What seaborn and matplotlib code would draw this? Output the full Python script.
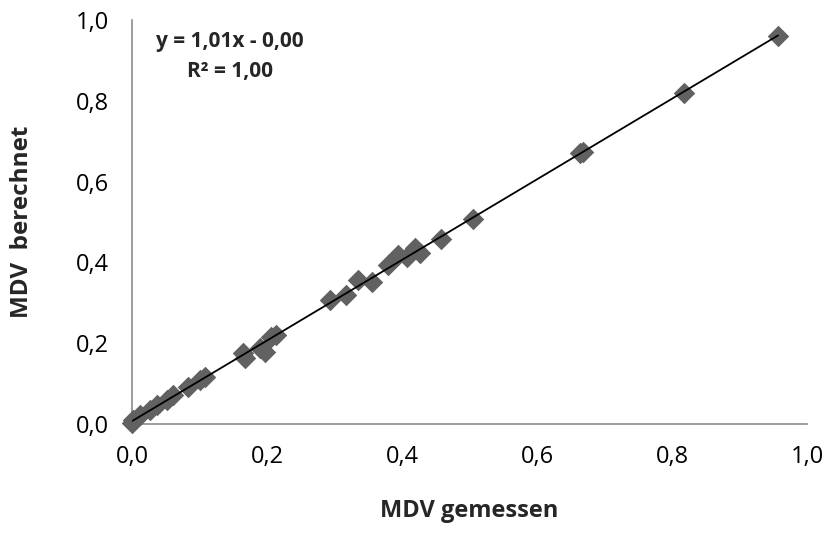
import matplotlib
matplotlib.use("Agg")
import matplotlib.pyplot as plt
from matplotlib.ticker import FuncFormatter, MultipleLocator
import seaborn as sns
import pandas as pd

# --- data ---
mdv_gemessen = [0.0, 0.001, 0.011, 0.026, 0.036, 0.051, 0.06, 0.083, 0.1, 0.108,
                0.164, 0.167, 0.189, 0.196, 0.205, 0.213, 0.293, 0.316, 0.335, 0.356,
                0.379, 0.394, 0.407, 0.419, 0.427, 0.457, 0.505, 0.664, 0.668, 0.817, 0.957]
mdv_berechnet = [0.003, 0.01, 0.022, 0.035, 0.047, 0.059, 0.072, 0.092, 0.109, 0.116,
                 0.176, 0.163, 0.188, 0.178, 0.215, 0.220, 0.307, 0.319, 0.356, 0.351,
                 0.394, 0.418, 0.413, 0.436, 0.423, 0.458, 0.507, 0.671, 0.673, 0.819, 0.961]
equation_text = "y = 1,01x - 0,00"
r2_text = "R² = 1,00"
x_label = "MDV gemessen"
y_label = "MDV  berechnet"

df = pd.DataFrame({"gemessen": mdv_gemessen, "berechnet": mdv_berechnet})

sns.set_theme(style="white")
plt.rcParams["font.family"] = ["Open Sans", "DejaVu Sans"]

fig = plt.figure(figsize=(8.32, 5.5), dpi=100)
ax = fig.add_axes([0.159, 0.229, 0.811, 0.735])

sns.scatterplot(data=df, x="gemessen", y="berechnet", ax=ax, marker="D", s=120,
                color="#616161", linewidth=0, clip_on=False, zorder=3)
sns.regplot(data=df, x="gemessen", y="berechnet", ax=ax, scatter=False, ci=None,
            truncate=True, line_kws={"color": "black", "linewidth": 1.3, "zorder": 4})

ax.set_xlim(0, 1.0)
ax.set_ylim(0, 1.0)
ax.xaxis.set_major_locator(MultipleLocator(0.2))
ax.yaxis.set_major_locator(MultipleLocator(0.2))
fmt = FuncFormatter(lambda v, p: f"{v:.1f}".replace(".", ","))
ax.xaxis.set_major_formatter(fmt)
ax.yaxis.set_major_formatter(fmt)

for side in ["top", "right"]:
    ax.spines[side].set_visible(False)
for side in ["left", "bottom"]:
    ax.spines[side].set_color("#8c8c8c")
    ax.spines[side].set_linewidth(1.2)

ax.tick_params(axis="both", which="major", direction="out", length=6, width=1.2,
               color="#8c8c8c", labelsize=17, labelcolor="black")
ax.tick_params(axis="x", pad=9)
ax.tick_params(axis="y", pad=11)
ax.grid(False)

ax.set_xlabel(x_label, fontsize=17, fontweight="bold", labelpad=22)
ax.set_ylabel(y_label, fontsize=17.5, fontweight="bold", labelpad=30)

ax.text(0.145, 0.947, equation_text, transform=ax.transAxes, ha="center", va="center",
        fontsize=15, fontweight="bold")
ax.text(0.145, 0.872, r2_text, transform=ax.transAxes, ha="center", va="center",
        fontsize=15, fontweight="bold")

fig.savefig("out.png", dpi=100, facecolor="white")
